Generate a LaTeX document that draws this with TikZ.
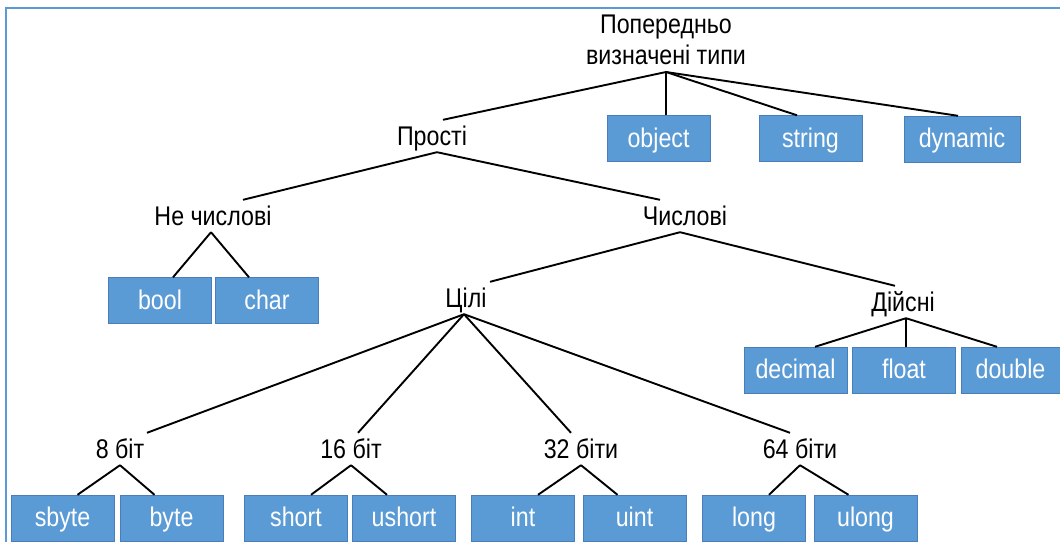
\documentclass[tikz,border=0pt]{standalone}
\usepackage{fontspec}
\setmainfont{Liberation Sans}[FakeStretch=0.86]
\definecolor{boxblue}{HTML}{5B9BD5}
\definecolor{boxedge}{HTML}{4A7EBB}
\tikzset{
  typebox/.style={draw=boxedge, fill=boxblue, text=white, minimum width=103pt,
    minimum height=46pt, inner sep=0pt, text height=20pt, text depth=3pt},
  grp/.style={anchor=base, inner xsep=2pt, inner ysep=7pt, text height=18pt, text depth=0pt},
  link/.style={line width=1.9pt}
}
\begin{document}
\begin{tikzpicture}[x=1pt, y=-1pt, font=\fontsize{27}{31}\selectfont]
    \useasboundingbox (0,0) rectangle (1060,542);

    % Frame
    \draw[boxblue, line width=2pt] (1060,8) -- (6,8) -- (6,542);

    % Group labels
    \node[anchor=south, inner sep=7pt, align=center] (root) at (666,72) {Попередньо\\визначені типи};
    \node[grp] (prosti) at (432,145) {Прості};
    \node[grp] (nech) at (213,225) {Не числові};
    \node[grp] (chysl) at (685,225) {Числові};
    \node[grp] (cili) at (466,307) {Цілі};
    \node[grp] (diysni) at (903,311) {Дійсні};
    \node[grp] (b8) at (120,458) {8 біт};
    \node[grp] (b16) at (351,458) {16 біт};
    \node[grp] (b32) at (581,458) {32 біти};
    \node[grp] (b64) at (800,458) {64 біти};

    % Type boxes
    \node[typebox] (object) at (658.5,138.5) {object};
    \node[typebox] (string) at (810.5,138.5) {string};
    \node[typebox, minimum width=116pt] (dynamic) at (962,139) {dynamic};
    \node[typebox] (bool) at (160,300.5) {bool};
    \node[typebox] (char) at (267,300.5) {char};
    \node[typebox] (decimal) at (795.5,370) {decimal};
    \node[typebox] (float) at (904,370) {float};
    \node[typebox, minimum width=99pt] (double) at (1010.5,370) {double};
    \node[typebox] (sbyte) at (62.5,518) {sbyte};
    \node[typebox] (byte) at (171.5,518) {byte};
    \node[typebox] (short) at (296,518) {short};
    \node[typebox] (ushort) at (404,518) {ushort};
    \node[typebox] (int) at (523,518) {int};
    \node[typebox] (uint) at (634.5,518) {uint};
    \node[typebox] (long) at (754,518) {long};
    \node[typebox] (ulong) at (865.5,518) {ulong};

    % Connectors
    \draw[link] (root.south) -- ([xshift=11pt]prosti.north);
    \draw[link] (root.south) -- (root.south |- object.north);
    \draw[link] (root.south) -- ([xshift=-13.5pt]string.north);
    \draw[link] (root.south) -- ([xshift=-4pt]dynamic.north);
    \draw[link] ([xshift=5pt]prosti.south) -- ([xshift=30pt]nech.north);
    \draw[link] ([xshift=5pt]prosti.south) -- ([xshift=-25pt]chysl.north);
    \draw[link] ([xshift=-2pt]nech.south) -- ([xshift=13pt]bool.north);
    \draw[link] ([xshift=-2pt]nech.south) -- ([xshift=-18pt]char.north);
    \draw[link] ([xshift=-5pt]chysl.south) -- ([xshift=24pt]cili.north);
    \draw[link] ([xshift=-5pt]chysl.south) -- ([xshift=-8pt]diysni.north);
    \draw[link] ([xshift=3pt]diysni.south) -- ([xshift=19.5pt]decimal.north);
    \draw[link] ([xshift=3pt]diysni.south) -- ([xshift=2pt]float.north);
    \draw[link] ([xshift=3pt]diysni.south) -- ([xshift=-13.5pt]double.north);
    \foreach \g/\dx in {b8/27, b16/7, b32/-10, b64/-10}
      \draw[link] ([xshift=-2pt]cili.south) -- ([xshift=\dx pt]\g.north);
    \foreach \g/\l/\r in {b8/sbyte/byte, b16/short/ushort, b32/int/uint, b64/long/ulong} {
      \draw[link] (\g.south) -- ([xshift=15pt]\l.north);
      \draw[link] (\g.south) -- ([xshift=-17pt]\r.north);
    }
  \end{tikzpicture}
\end{document}
